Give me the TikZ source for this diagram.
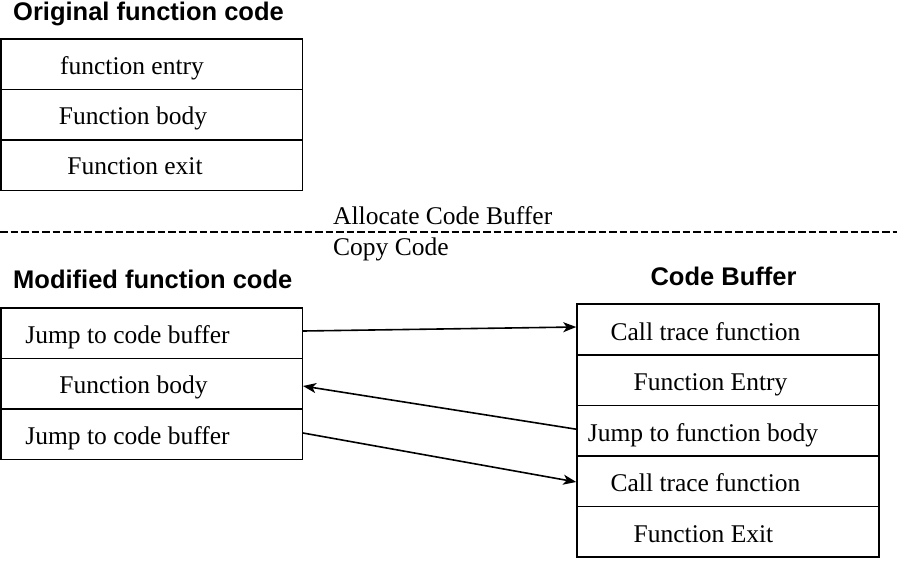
\documentclass[tikz,border=0pt]{standalone}
\usepackage{fontspec}
\setmainfont{Liberation Serif}
\newfontfamily\titlefont{Liberation Sans}
\usetikzlibrary{arrows.meta}
\tikzset{
  row/.style={draw, line width=1.5pt, rectangle, inner sep=0pt},
  txt/.style={anchor=base, inner sep=0pt, font=\fontsize{25.5}{30}\selectfont},
  ttl/.style={anchor=base, inner sep=0pt, font=\titlefont\bfseries\fontsize{25.5}{30}\selectfont},
  conn/.style={line width=1.6pt, -{Stealth[length=13pt,width=10pt,inset=3.5pt]}}
}
\begin{document}
\begin{tikzpicture}[x=1pt,y=-1pt]
\useasboundingbox (0,0) rectangle (897,563);
% Original function code
\node[ttl, anchor=base west] (t1) at (13,20) {Original function code};
\node[row, minimum width=301.5pt, minimum height=50.5pt] (o1) at (151.5,64) {};
\node[row, minimum width=301.5pt, minimum height=50.5pt] (o2) at (151.5,114.5) {};
\node[row, minimum width=301.5pt, minimum height=50.5pt] (o3) at (151.5,165) {};
\node[txt] (o1t) at (132,74) {function entry};
\node[txt] (o2t) at (133,124) {Function body};
\node[txt] (o3t) at (135,174.5) {Function exit};
% divider
\coordinate (d0) at (0,232);
\coordinate (d1) at (897,232);
\draw[line width=1.5pt, dash pattern=on 7.5pt off 3pt] (d0) -- (d1);
\node[txt, anchor=base west] (alloc) at (333,224) {Allocate Code Buffer};
\node[txt, anchor=base west] (copy) at (333,255) {Copy Code};
% Modified function code
\node[ttl, anchor=base west] (t2) at (13,288.5) {Modified function code};
\node[row, minimum width=301.5pt, minimum height=50.5pt] (l1) at (151.5,333) {};
\node[row, minimum width=301.5pt, minimum height=50.5pt] (l2) at (151.5,383.5) {};
\node[row, minimum width=301.5pt, minimum height=50.5pt] (l3) at (151.5,434) {};
\node[txt] (l1t) at (127.5,343) {Jump to code buffer};
\node[txt] (l2t) at (133.5,393) {Function body};
\node[txt] (l3t) at (127.5,444) {Jump to code buffer};
% Code Buffer
\node[ttl] (t3) at (723.5,285.5) {Code Buffer};
\node[row, minimum width=302pt, minimum height=50.6pt] (r1) at (728,329.5) {};
\node[row, minimum width=302pt, minimum height=50.6pt] (r2) at (728,380.1) {};
\node[row, minimum width=302pt, minimum height=50.6pt] (r3) at (728,430.7) {};
\node[row, minimum width=302pt, minimum height=50.6pt] (r4) at (728,481.3) {};
\node[row, minimum width=302pt, minimum height=50.6pt] (r5) at (728,531.9) {};
\node[txt] (r1t) at (705.5,340) {Call trace function};
\node[txt] (r2t) at (710.5,390.5) {Function Entry};
\node[txt] (r3t) at (703,441) {Jump to function body};
\node[txt] (r4t) at (705.5,491.5) {Call trace function};
\node[txt] (r5t) at (703.5,542) {Function Exit};
% connectors
\draw[conn] ([yshift=2pt]l1.east) -- ([yshift=2.5pt]r1.west);
\draw[conn] ([yshift=1.5pt]r3.west) -- ([yshift=-2.5pt]l2.east);
\draw[conn] ([yshift=1pt]l3.east) -- ([yshift=-0.7pt]r4.west);
\end{tikzpicture}
\end{document}
